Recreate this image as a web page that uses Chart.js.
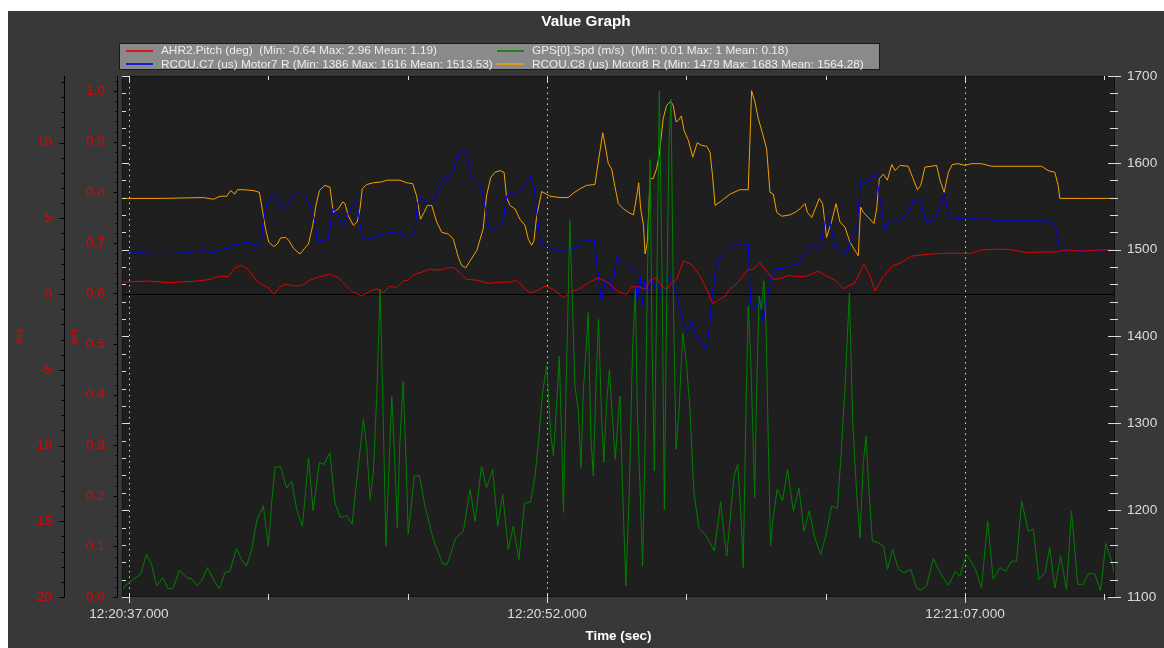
<!DOCTYPE html>
<html>
<head>
<meta charset="utf-8">
<title>Value Graph</title>
<script src="https://cdn.jsdelivr.net/npm/chart.js@4.4.1/dist/chart.umd.min.js"></script>
<style>
  html, body { margin: 0; background: #fff; }
  #wrap { position: absolute; left: 8px; top: 11px; width: 1156px; height: 637px; }
</style>
</head>
<body>
<div id="wrap"><canvas id="graph"></canvas></div>
<script>
// times are seconds past 12:20:00
const pitchTime = [36.68, 37.75, 38.47, 39.43, 39.91, 40.27, 40.56, 40.80, 41.04, 41.28, 41.58, 41.76, 42.00, 42.20, 42.39, 42.60, 42.90, 43.20, 43.50, 43.85,
  44.21, 44.51, 44.75, 44.99, 45.35, 45.65, 45.89, 46.13, 46.36, 46.60, 46.84, 47.02, 47.23, 47.44, 47.80, 48.16, 48.40, 48.64, 48.88, 49.12,
  49.48, 49.89, 50.31, 50.67, 50.91, 51.21, 51.39, 51.63, 51.93, 52.23, 52.59, 52.82, 53.12, 53.48, 53.84, 54.20, 54.56, 54.86, 55.04, 55.28,
  55.52, 55.70, 55.93, 56.11, 56.29, 56.47, 56.65, 56.89, 57.19, 57.49, 57.73, 57.94, 58.15, 58.39, 58.50, 58.86, 59.22, 59.40, 59.64, 59.88,
  60.12, 60.36, 60.66, 60.96, 61.32, 61.73, 62.03, 62.33, 62.63, 63.05, 63.37, 63.59, 63.77, 64.07, 64.43, 64.72, 65.08, 65.68, 66.16, 66.75,
  67.23, 67.59, 68.07, 68.55, 69.27, 69.51, 70.22, 70.58, 71.18, 71.78, 72.38]
const pitchDeg = [0.79, 0.86, 0.75, 0.86, 0.97, 1.19, 1.15, 1.74, 1.89, 1.63, 0.86, 0.64, 0.42, -0.02, 0.42, 0.66, 0.53, 0.57, 0.92, 1.15,
  1.30, 1.08, 0.64, 0.20, -0.13, 0.20, 0.35, 0.09, 0.53, 0.42, 0.86, 0.92, 1.30, 1.41, 1.63, 1.58, 1.72, 1.76, 1.41, 0.97,
  0.92, 0.71, 0.79, 0.79, 0.92, 0.35, 0.09, 0.20, 0.53, 0.31, -0.24, 0.13, 0.31, 0.75, 1.08, 0.75, 0.13, -0.02, 0.48, 0.48,
  0.31, 0.92, 1.08, 0.53, 0.31, 0.75, 0.97, 2.18, 1.96, 1.19, 0.31, -0.64, -0.40, -0.13, 0.20, 0.79, 1.63, 1.63, 2.07, 1.52,
  0.97, 1.01, 1.23, 1.15, 1.19, 1.52, 1.19, 0.92, 0.35, 0.75, 1.96, 1.19, 0.20, 1.19, 1.89, 2.07, 2.51, 2.62, 2.69, 2.69,
  2.69, 2.91, 2.96, 2.95, 2.73, 2.77, 2.77, 2.91, 2.84, 2.91, 2.91]

const gpsTime = [36.74, 36.86, 37.16, 37.42, 37.63, 37.81, 37.99, 38.21, 38.41, 38.59, 38.81, 39.07, 39.25, 39.43, 39.61, 39.81, 40.03, 40.24, 40.45, 40.62,
  40.86, 41.04, 41.22, 41.40, 41.60, 41.82, 42.00, 42.12, 42.24, 42.44, 42.66, 42.84, 43.02, 43.22, 43.32, 43.44, 43.61, 43.83, 44.00, 44.21,
  44.39, 44.59, 44.81, 45.01, 45.19, 45.41, 45.53, 45.65, 45.77, 45.89, 46.01, 46.10, 46.22, 46.31, 46.43, 46.51, 46.63, 46.72, 46.84, 46.94,
  47.02, 47.24, 47.42, 47.62, 47.92, 48.26, 48.42, 48.73, 49.00, 49.24, 49.42, 49.65, 49.83, 50.05, 50.23, 50.41, 50.61, 50.79, 50.99, 51.19,
  51.41, 51.57, 51.69, 51.84, 51.99, 52.13, 52.23, 52.35, 52.44, 52.53, 52.59, 52.68, 52.75, 52.82, 52.92, 53.00, 53.12, 53.22, 53.30, 53.40,
  53.48, 53.57, 53.66, 53.76, 53.85, 53.96, 54.04, 54.14, 54.24, 54.36, 54.45, 54.56, 54.62, 54.71, 54.83, 54.95, 55.07, 55.17, 55.24, 55.34,
  55.43, 55.52, 55.60, 55.70, 55.77, 55.85, 55.93, 56.03, 56.13, 56.21, 56.29, 56.38, 56.45, 56.53, 56.63, 56.74, 56.87, 56.99, 57.13, 57.27,
  57.45, 57.67, 57.85, 58.00, 58.12, 58.23, 58.33, 58.45, 58.59, 58.71, 58.84, 58.95, 59.04, 59.14, 59.22, 59.31, 59.38, 59.45, 59.52, 59.61,
  59.69, 59.78, 59.86, 59.94, 60.02, 60.12, 60.26, 60.45, 60.63, 60.84, 61.04, 61.22, 61.41, 61.61, 61.82, 62.03, 62.21, 62.42, 62.54, 62.69,
  62.85, 62.97, 63.11, 63.23, 63.35, 63.45, 63.53, 63.67, 63.89, 64.07, 64.22, 64.40, 64.61, 64.81, 65.05, 65.26, 65.42, 65.62, 65.86, 66.10,
  66.40, 66.66, 66.81, 67.05, 67.35, 67.59, 67.81, 68.01, 68.25, 68.45, 68.67, 68.85, 69.03, 69.27, 69.45, 69.65, 69.87, 70.04, 70.22, 70.43,
  70.64, 70.82, 71.04, 71.24, 71.44, 71.66, 71.86, 72.05, 72.26, 72.38]
const gpsSpd = [0.012, 0.022, 0.035, 0.045, 0.084, 0.065, 0.022, 0.038, 0.016, 0.018, 0.053, 0.038, 0.036, 0.023, 0.032, 0.058, 0.035, 0.016, 0.049, 0.051,
  0.096, 0.074, 0.061, 0.094, 0.154, 0.180, 0.101, 0.186, 0.256, 0.258, 0.215, 0.229, 0.173, 0.140, 0.196, 0.275, 0.170, 0.266, 0.262, 0.285,
  0.186, 0.157, 0.161, 0.144, 0.239, 0.351, 0.298, 0.193, 0.246, 0.397, 0.608, 0.410, 0.101, 0.226, 0.397, 0.305, 0.137, 0.305, 0.427, 0.272,
  0.124, 0.239, 0.240, 0.180, 0.114, 0.065, 0.065, 0.117, 0.130, 0.213, 0.150, 0.259, 0.216, 0.252, 0.140, 0.203, 0.094, 0.140, 0.074, 0.185,
  0.188, 0.239, 0.305, 0.404, 0.457, 0.325, 0.279, 0.384, 0.476, 0.305, 0.167, 0.404, 0.568, 0.746, 0.568, 0.417, 0.371, 0.256, 0.404, 0.490,
  0.562, 0.322, 0.239, 0.424, 0.549, 0.351, 0.266, 0.384, 0.450, 0.345, 0.272, 0.364, 0.397, 0.213, 0.022, 0.206, 0.490, 0.608, 0.371, 0.213,
  0.061, 0.305, 0.634, 0.865, 0.503, 0.249, 0.568, 1.000, 0.634, 0.173, 0.568, 0.898, 0.984, 0.601, 0.292, 0.371, 0.522, 0.470, 0.371, 0.206,
  0.137, 0.124, 0.107, 0.091, 0.140, 0.188, 0.134, 0.081, 0.167, 0.239, 0.262, 0.173, 0.058, 0.371, 0.575, 0.470, 0.338, 0.196, 0.404, 0.595,
  0.568, 0.625, 0.536, 0.305, 0.101, 0.160, 0.213, 0.190, 0.252, 0.170, 0.216, 0.130, 0.170, 0.117, 0.084, 0.127, 0.180, 0.175, 0.272, 0.410,
  0.601, 0.345, 0.206, 0.117, 0.266, 0.318, 0.232, 0.111, 0.107, 0.101, 0.055, 0.094, 0.055, 0.048, 0.055, 0.018, 0.014, 0.022, 0.076, 0.048,
  0.023, 0.051, 0.041, 0.084, 0.058, 0.018, 0.150, 0.035, 0.058, 0.051, 0.071, 0.071, 0.190, 0.130, 0.134, 0.035, 0.048, 0.098, 0.018, 0.081,
  0.015, 0.170, 0.025, 0.025, 0.047, 0.045, 0.012, 0.106, 0.071, 0.041]

const c7Time = [36.68, 37.27, 38.23, 39.19, 39.67, 40.03, 40.27, 40.62, 40.74, 40.86, 40.98, 41.28, 41.46, 41.58, 41.74, 41.80, 41.94, 42.20, 42.36, 42.51,
  42.66, 42.84, 43.11, 43.32, 43.56, 43.67, 43.76, 43.85, 44.15, 44.31, 44.45, 44.67, 44.81, 44.99, 45.17, 45.29, 45.37, 45.59, 45.83, 46.01,
  46.31, 46.72, 46.84, 47.08, 47.26, 47.35, 47.44, 47.59, 47.68, 47.92, 48.10, 48.28, 48.46, 48.64, 48.78, 48.99, 49.12, 49.24, 49.38, 49.60,
  49.71, 49.83, 49.95, 50.13, 50.43, 50.55, 50.73, 50.91, 51.09, 51.27, 51.41, 51.53, 51.65, 51.77, 52.05, 52.35, 52.70, 52.82, 53.00, 53.18,
  53.36, 53.54, 53.69, 53.81, 53.96, 54.08, 54.20, 54.32, 54.50, 54.68, 54.83, 55.00, 55.16, 55.24, 55.34, 55.43, 55.52, 55.64, 55.76, 55.88,
  56.00, 56.11, 56.27, 56.41, 56.53, 56.65, 56.83, 57.01, 57.19, 57.31, 57.49, 57.73, 57.82, 57.94, 58.09, 58.27, 58.45, 58.80, 59.22, 59.31,
  59.46, 59.62, 59.74, 59.88, 60.02, 60.22, 60.42, 60.72, 61.02, 61.20, 61.38, 61.56, 61.73, 61.85, 62.01, 62.15, 62.33, 62.57, 62.75, 62.87,
  63.05, 63.13, 63.25, 63.35, 63.47, 63.59, 63.68, 63.83, 63.92, 64.01, 64.13, 64.25, 64.40, 64.52, 64.72, 64.96, 65.14, 65.38, 65.58, 65.92,
  66.25, 66.46, 66.75, 67.11, 67.59, 67.95, 69.75, 69.98, 70.22, 70.34, 70.40, 71.18, 72.38]
const c7Us = [1498, 1497, 1498, 1497, 1499, 1496, 1500, 1501.5, 1506.5, 1504, 1507, 1508.5, 1505, 1506.5, 1504, 1528, 1553, 1564, 1555, 1547,
  1551, 1560, 1568, 1562, 1547, 1531.5, 1510, 1510, 1512, 1547, 1543, 1528.5, 1539, 1549, 1556.5, 1528, 1512, 1512, 1514, 1517,
  1519, 1521, 1515, 1513.5, 1520, 1553, 1559, 1558, 1553, 1553, 1570, 1583, 1581.5, 1591, 1608, 1616, 1608, 1589, 1581, 1574,
  1562, 1539, 1522, 1524, 1532, 1562, 1566, 1562, 1569, 1578, 1585, 1574, 1539, 1506.5, 1503, 1499, 1498, 1503, 1501, 1509,
  1512, 1510, 1512, 1478, 1441, 1462, 1467, 1451, 1491, 1487, 1482, 1482, 1474, 1439, 1470, 1435.5, 1466, 1455, 1466, 1455,
  1460.5, 1447, 1459, 1470, 1462, 1447, 1424, 1405, 1418, 1403, 1393, 1386, 1409, 1451, 1485, 1495, 1501, 1506.5, 1506.5, 1435.5,
  1432, 1445, 1417, 1439, 1466, 1478.5, 1478, 1481.5, 1483.5, 1493, 1501, 1506.5, 1501, 1508.5, 1539, 1532, 1503, 1497, 1497, 1508.5,
  1520, 1528, 1578, 1576, 1581.5, 1578, 1585, 1587, 1562, 1547, 1522, 1532, 1537, 1532, 1535, 1541, 1556.5, 1558, 1533.5, 1534.5,
  1564, 1534.5, 1536, 1535, 1537, 1534, 1534, 1531.5, 1529.5, 1512, 1499, 1499, 1498]

const c8Time = [36.68, 38.23, 39.67, 40.03, 40.27, 40.51, 40.65, 40.80, 40.89, 41.13, 41.46, 41.68, 41.80, 41.90, 42.02, 42.20, 42.32, 42.44, 42.62, 42.74,
  42.90, 43.14, 43.29, 43.44, 43.59, 43.71, 43.83, 44.03, 44.21, 44.33, 44.51, 44.67, 44.75, 44.87, 45.05, 45.19, 45.29, 45.37, 45.53, 45.77,
  46.07, 46.25, 46.72, 46.96, 47.18, 47.32, 47.46, 47.59, 47.71, 47.86, 48.04, 48.22, 48.46, 48.64, 48.82, 48.94, 49.08, 49.24, 49.48, 49.71,
  49.83, 49.98, 50.13, 50.31, 50.46, 50.55, 50.67, 50.85, 51.03, 51.21, 51.33, 51.45, 51.53, 51.63, 51.81, 52.11, 52.47, 52.76, 52.94, 53.18,
  53.42, 53.72, 53.84, 54.00, 54.12, 54.20, 54.32, 54.44, 54.56, 54.74, 54.92, 55.10, 55.22, 55.29, 55.36, 55.46, 55.52, 55.60, 55.70, 55.81,
  55.93, 56.03, 56.17, 56.29, 56.44, 56.53, 56.63, 56.72, 56.82, 56.92, 57.07, 57.23, 57.39, 57.55, 57.73, 57.85, 57.94, 58.03, 58.21, 58.33,
  58.57, 58.92, 59.22, 59.28, 59.34, 59.46, 59.58, 59.74, 59.88, 60.00, 60.12, 60.24, 60.42, 60.72, 60.96, 61.14, 61.26, 61.34, 61.50, 61.77,
  61.89, 62.03, 62.21, 62.37, 62.51, 62.69, 62.87, 63.09, 63.17, 63.25, 63.35, 63.53, 63.73, 63.83, 63.92, 64.07, 64.21, 64.37, 64.49, 64.67,
  64.96, 65.14, 65.29, 65.41, 65.56, 65.80, 65.98, 66.10, 66.25, 66.40, 66.54, 66.75, 66.99, 67.23, 67.59, 67.95, 68.79, 69.75, 69.98, 70.22,
  70.34, 70.40, 71.18, 72.38]
const c8Us = [1559, 1559, 1560, 1558, 1561.5, 1561.5, 1568, 1564, 1569, 1569, 1568, 1566, 1543, 1524, 1508.5, 1503.5, 1506.5, 1513.5, 1514, 1510.5,
  1501.5, 1495, 1501, 1506.5, 1527.5, 1551, 1568, 1574, 1572, 1543, 1547, 1555, 1553, 1539, 1528, 1532, 1547, 1570, 1575, 1577,
  1578, 1580, 1580, 1577, 1576, 1562, 1535, 1543, 1551, 1551, 1532, 1520, 1518, 1512, 1491, 1482, 1479, 1487, 1499, 1524,
  1562, 1583, 1589, 1591, 1589, 1560, 1551, 1547, 1535, 1528, 1512, 1505, 1510, 1539, 1567, 1561.5, 1560, 1560, 1565, 1570,
  1574, 1575, 1601, 1634.5, 1614, 1599, 1593, 1572, 1553, 1547, 1543, 1540, 1562, 1577, 1547, 1528, 1495, 1508.5, 1581.5, 1582,
  1593, 1610, 1651, 1666, 1671, 1666, 1647, 1649, 1654, 1637, 1626, 1606.5, 1623, 1620, 1619, 1612, 1585, 1551, 1555, 1558,
  1564, 1569, 1569, 1624, 1683, 1670, 1651, 1633, 1616, 1566, 1564, 1543, 1538.5, 1540, 1544, 1549, 1553, 1543, 1537, 1559,
  1553, 1514, 1532, 1553, 1532, 1526, 1508.5, 1497, 1493, 1549, 1543, 1537, 1530, 1547, 1581.5, 1587, 1580, 1598, 1591, 1597,
  1596, 1581.5, 1569, 1574, 1595, 1596, 1597, 1580, 1566, 1589, 1598, 1599, 1597, 1599, 1599, 1596, 1596, 1596, 1591, 1589,
  1574, 1559, 1559, 1559]

const seriesLabels = [
  'AHR2.Pitch (deg)  (Min: -0.64 Max: 2.96 Mean: 1.19)',
  'GPS[0].Spd (m/s)  (Min: 0.01 Max: 1 Mean: 0.18)',
  'RCOU.C7 (us) Motor7 R (Min: 1386 Max: 1616 Mean: 1513.53)',
  'RCOU.C8 (us) Motor8 R (Min: 1479 Max: 1683 Mean: 1564.28)'
]
const seriesColors = ['rgb(230,0,0)', 'rgb(0,128,0)', 'rgb(0,0,240)', 'rgb(245,160,0)']

const timeTicks = [37, 42, 47, 52, 57, 62, 67, 72]
const timeLabelled = [37, 52, 67]

const FONT = '"Liberation Sans", Arial, sans-serif'
const AXIS_RED = 'rgb(230,0,0)'
const AXIS_GREY = '#dcdcdc'

function pts (t, v) {
  return t.map((x, i) => ({ x, y: v[i] }))
}

function stepTicks (min, max, step) {
  const out = []
  const n = Math.round((max - min) / step)
  for (let i = 0; i <= n; i++) out.push({ value: +(min + i * step).toFixed(4) })
  return out
}

function clock (sec) {
  const s = Math.round(sec)
  const mm = 20 + Math.floor(s / 60)
  const ss = s % 60
  return '12:' + mm + ':' + String(ss).padStart(2, '0') + '.000'
}

function seg (ctx, x1, y1, x2, y2) {
  ctx.beginPath()
  ctx.moveTo(x1, y1)
  ctx.lineTo(x2, y2)
  ctx.stroke()
}

const crisp = v => Math.round(v) + 0.5

// ZedGraph-like frame: backgrounds, dotted time grid, tick marks, legend box
const zedFrame = {
  id: 'zedFrame',
  beforeDraw (chart) {
    const { ctx, chartArea: a, width, height } = chart
    ctx.save()
    ctx.fillStyle = '#383838'
    ctx.fillRect(0, 0, width, height)
    ctx.fillStyle = '#1f1f1f'
    ctx.fillRect(a.left, a.top, a.right - a.left, a.bottom - a.top)
    ctx.restore()
  },
  beforeDatasetsDraw (chart) {
    const { ctx, chartArea: a, scales } = chart
    ctx.save()
    ctx.lineWidth = 1
    ctx.strokeStyle = 'rgba(235,235,235,0.9)'
    ctx.setLineDash([1.5, 4])
    timeLabelled.forEach(t => {
      const px = crisp(scales.x.getPixelForValue(t))
      seg(ctx, px, a.top, px, a.bottom)
    })
    ctx.setLineDash([])
    ctx.strokeStyle = '#000'
    const y0 = crisp(scales.deg.getPixelForValue(0))
    seg(ctx, a.left, y0, a.right, y0)
    ctx.restore()
  },
  afterDatasetsDraw (chart) {
    const { ctx, chartArea: a, scales } = chart
    const L = Math.round(a.left), R = Math.round(a.right)
    const T = Math.round(a.top), B = Math.round(a.bottom)
    ctx.save()
    ctx.lineWidth = 1

    // plot border
    ctx.strokeStyle = '#111'
    ctx.strokeRect(L + 0.5, T + 0.5, R - L - 1, B - T - 1)

    // time ticks
    ctx.strokeStyle = AXIS_GREY
    timeTicks.forEach(t => {
      const px = crisp(scales.x.getPixelForValue(t))
      const major = timeLabelled.includes(t)
      seg(ctx, px, B - 3, px, B + (major ? 6 : 3))
      seg(ctx, px, T, px, T + (major ? 6 : 4))
    })

    // right axis ticks, mirrored inside the left edge
    stepTicks(1100, 1700, 20).forEach(({ value }) => {
      const py = crisp(scales.us.getPixelForValue(value))
      const major = value % 100 === 0
      seg(ctx, R - (major ? 7 : 5), py, R + (major ? 6 : 3), py)
      seg(ctx, L, py, L + (major ? 7 : 4), py)
    })

    // left axes: black spines with outward ticks
    ctx.strokeStyle = '#000'
    const degX = crisp(scales.deg.right)
    seg(ctx, degX, T, degX, B)
    stepTicks(-20, 14, 1).forEach(({ value }) => {
      const py = crisp(scales.deg.getPixelForValue(value))
      seg(ctx, degX - (value % 5 === 0 ? 5 : 3), py, degX, py)
    })
    const spdX = crisp(scales.spd.right - 5)
    seg(ctx, spdX, T, spdX, B)
    stepTicks(0, 1.02, 0.02).forEach(({ value }) => {
      const py = crisp(scales.spd.getPixelForValue(value))
      const major = Math.round(value * 50) % 5 === 0
      seg(ctx, spdX - (major ? 4 : 2), py, spdX, py)
    })
    ctx.restore()
  },
  afterDraw (chart) {
    const { ctx } = chart
    const box = { x: 111, y: 32, w: 761, h: 27 }
    ctx.save()
    ctx.fillStyle = '#8a8a8a'
    ctx.fillRect(box.x, box.y, box.w, box.h)
    ctx.strokeStyle = '#1a1a1a'
    ctx.lineWidth = 1
    ctx.strokeRect(box.x + 0.5, box.y + 0.5, box.w - 1, box.h - 1)
    ctx.font = '11.8px ' + FONT
    ctx.textBaseline = 'middle'
    chart.data.datasets.forEach((ds, i) => {
      const col = i % 2
      const row = Math.floor(i / 2)
      const x = box.x + 7 + col * 371
      const y = box.y + 7.5 + row * 13.3
      ctx.strokeStyle = ds.borderColor
      ctx.lineWidth = 1.6
      seg(ctx, x, Math.round(y), x + 27, Math.round(y))
      ctx.fillStyle = '#ececec'
      ctx.fillText(ds.label, x + 35, y + 0.5)
    })
    ctx.restore()
  }
}

const datasets = [
  { label: seriesLabels[0], data: pts(pitchTime, pitchDeg), yAxisID: 'deg' },
  { label: seriesLabels[1], data: pts(gpsTime, gpsSpd), yAxisID: 'spd' },
  { label: seriesLabels[2], data: pts(c7Time, c7Us), yAxisID: 'us' },
  { label: seriesLabels[3], data: pts(c8Time, c8Us), yAxisID: 'us' }
].map((d, i) => ({
  ...d,
  borderColor: seriesColors[i],
  borderWidth: 1,
  pointRadius: 0,
  tension: 0,
  fill: false
}))

const noGrid = { display: false, drawTicks: false }
const noBorder = { display: false }

new Chart(document.getElementById('graph'), {
  type: 'line',
  data: { datasets },
  plugins: [zedFrame],
  options: {
    animation: false,
    responsive: true,
    maintainAspectRatio: false,
    layout: { padding: 0 },
    plugins: {
      legend: { display: false },
      tooltip: { enabled: false },
      title: {
        display: true,
        text: 'Value Graph',
        color: '#ffffff',
        font: { family: FONT, size: 15.3, weight: 'bold' },
        padding: { top: 2, bottom: 44.6 }
      }
    },
    scales: {
      x: {
        type: 'linear',
        position: 'bottom',
        min: 36.75,
        max: 72.38,
        afterBuildTicks: s => { s.ticks = timeTicks.map(value => ({ value })) },
        afterFit: s => { s.height = 51 },
        grid: noGrid,
        border: noBorder,
        ticks: {
          autoSkip: false,
          maxRotation: 0,
          padding: 9,
          color: AXIS_GREY,
          font: { family: FONT, size: 13.6 },
          callback: v => timeLabelled.includes(v) ? clock(v) : ''
        },
        title: {
          display: true,
          text: 'Time (sec)',
          color: '#ffffff',
          font: { family: FONT, size: 13.4, weight: 'bold' },
          padding: { top: 0, bottom: 4 }
        }
      },
      deg: {
        type: 'linear',
        position: 'left',
        weight: 2,
        min: -20,
        max: 14.4,
        afterBuildTicks: s => { s.ticks = stepTicks(-20, 14, 1) },
        afterFit: s => { s.width = 56 },
        grid: noGrid,
        border: noBorder,
        ticks: {
          autoSkip: false,
          padding: 12,
          color: AXIS_RED,
          font: { family: FONT, size: 13.6 },
          callback: v => v % 5 === 0 ? String(v) : ''
        },
        title: {
          display: true,
          text: 'deg',
          color: AXIS_RED,
          font: { family: FONT, size: 9 },
          padding: { top: 6.6, bottom: 0 }
        }
      },
      spd: {
        type: 'linear',
        position: 'left',
        weight: 1,
        min: 0,
        max: 1.03,
        afterBuildTicks: s => { s.ticks = stepTicks(0, 1.02, 0.02) },
        afterFit: s => { s.width = 58 },
        grid: noGrid,
        border: noBorder,
        ticks: {
          autoSkip: false,
          padding: 17,
          color: AXIS_RED,
          font: { family: FONT, size: 13.6 },
          callback: v => Math.round(v * 50) % 5 === 0 ? v.toFixed(1) : ''
        },
        title: {
          display: true,
          text: 'm/s',
          color: AXIS_RED,
          font: { family: FONT, size: 9 },
          padding: { top: 5.6, bottom: 0 }
        }
      },
      us: {
        type: 'linear',
        position: 'right',
        min: 1100,
        max: 1700,
        afterBuildTicks: s => { s.ticks = stepTicks(1100, 1700, 20) },
        afterFit: s => { s.width = 49 },
        grid: noGrid,
        border: noBorder,
        ticks: {
          autoSkip: false,
          padding: 12,
          color: AXIS_GREY,
          font: { family: FONT, size: 13.6 },
          callback: v => v % 100 === 0 ? String(v) : ''
        }
      }
    }
  }
})
</script>
</body>
</html>
